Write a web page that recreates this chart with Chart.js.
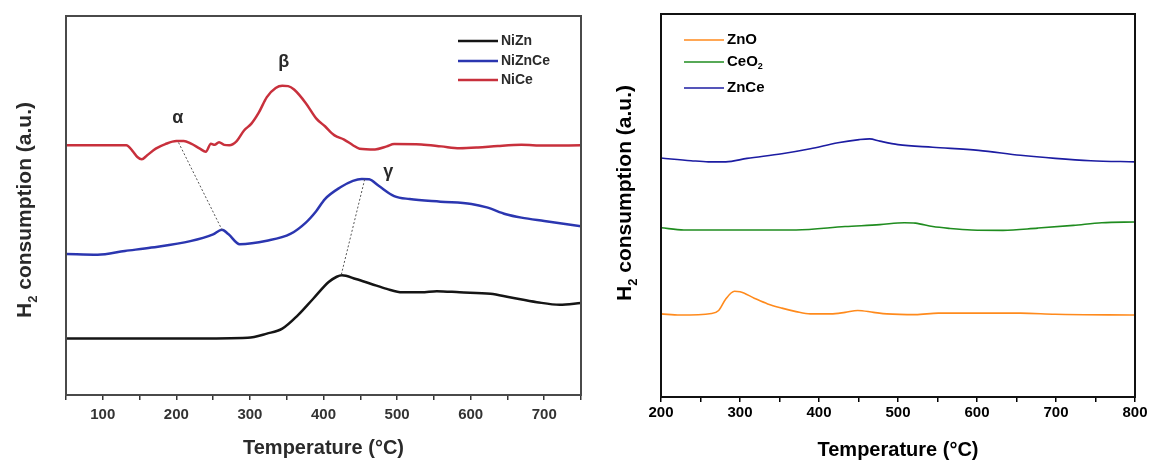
<!DOCTYPE html>
<html>
<head>
<meta charset="utf-8">
<title>H2-TPR profiles</title>
<script src="https://cdn.jsdelivr.net/npm/chart.js@4.4.1/dist/chart.umd.min.js"></script>
<style>
  html, body { margin: 0; padding: 0; background: #fff; }
  #wrap { position: relative; width: 1150px; height: 461px; }
  .panel { position: absolute; top: 0; }
  #left { left: 0; filter: blur(0.4px); }
  #right { left: 600px; }
</style>
</head>
<body>
<div id="wrap">
  <div class="panel" id="left"><canvas id="tprNi" width="600" height="461"></canvas></div>
  <div class="panel" id="right"><canvas id="tprSupport" width="550" height="461"></canvas></div>
</div>
<script>
// --- Ni catalysts (left panel), signal in arbitrary units ---
const niZnT = [50, 219, 297, 323, 344, 365, 386, 407, 418, 425, 444, 465, 486, 507, 533, 554, 585, 627, 653, 690, 721, 750];
const niZnH2 = [14.9, 14.9, 15.1, 16.2, 17.5, 21.0, 25.4, 29.8, 31.2, 31.6, 30.6, 29.3, 28.0, 27.1, 27.1, 27.4, 27.1, 26.7, 25.8, 24.5, 23.8, 24.3];

const niZnCeT = [50, 93, 130, 166, 219, 250, 262, 271, 286, 323, 355, 376, 390, 402, 423, 440, 452, 462, 475, 496, 517, 559, 601, 622, 648, 669, 700, 750];
const niZnCeH2 = [37.2, 37.0, 38.0, 38.9, 40.6, 42.4, 43.6, 42.4, 39.8, 40.7, 42.5, 45.5, 48.5, 51.7, 54.8, 56.5, 57.0, 56.9, 55.2, 52.5, 51.7, 51.0, 50.4, 49.5, 47.7, 46.8, 45.9, 44.5];

const niCeT = [50, 100, 132, 140, 147, 153, 160, 172, 185, 200, 210, 220, 232, 240, 247, 252, 258, 265, 272, 282, 292, 302, 312, 323, 335, 344, 352, 360, 376, 390, 402, 415, 428, 440, 449, 470, 486, 496, 533, 560, 585, 610, 637, 669, 700, 750];
const niCeH2 = [65.9, 65.9, 65.9, 64.5, 62.8, 62.2, 63.2, 65.0, 66.2, 67.0, 67.0, 66.3, 65.0, 64.2, 66.3, 66.0, 66.7, 66.0, 65.9, 67.0, 69.8, 71.6, 74.5, 78.6, 81.0, 81.6, 81.5, 80.6, 77.0, 73.0, 70.9, 68.5, 67.4, 65.9, 65.0, 64.8, 65.6, 66.2, 66.1, 65.6, 65.1, 65.3, 65.7, 66.0, 65.8, 65.9];

// dotted guides joining the shifted peaks
const alphaGuideT = [203, 262];
const alphaGuideH2 = [66.6, 43.6];
const gammaGuideT = [456, 424];
const gammaGuideH2 = [56.9, 31.6];

const peakNames = ['α', 'β', 'γ'];
const peakT = [202, 346, 488];
const peakH2 = [73.1, 87.9, 58.8];

// --- supports (right panel) ---
const znOT = [200, 224, 264, 273, 282, 293, 300, 318, 335, 353, 371, 389, 415, 433, 449, 469, 486, 522, 551, 611, 655, 699, 800];
const znOH2 = [21.7, 21.4, 21.8, 22.6, 25.6, 27.6, 27.5, 25.8, 24.3, 23.2, 22.3, 21.7, 21.7, 22.1, 22.6, 22.1, 21.7, 21.5, 21.9, 21.9, 21.9, 21.6, 21.4];

const ceO2T = [200, 229, 300, 371, 433, 477, 508, 522, 544, 566, 593, 633, 677, 722, 758, 800];
const ceO2H2 = [44.2, 43.6, 43.6, 43.6, 44.5, 45.0, 45.5, 45.4, 44.5, 44.0, 43.6, 43.5, 44.1, 44.8, 45.5, 45.7];

const znCeT = [200, 238, 260, 282, 309, 353, 389, 424, 451, 464, 477, 500, 544, 602, 655, 699, 744, 800];
const znCeH2 = [62.4, 61.7, 61.4, 61.4, 62.3, 63.5, 64.8, 66.4, 67.2, 67.4, 66.8, 65.9, 65.2, 64.4, 63.1, 62.3, 61.7, 61.4];

const FONT = '"Liberation Sans", Arial, sans-serif';
const pts = (xs, ys) => xs.map((x, i) => ({ x, y: ys[i] }));

function curve(label, xs, ys, color, width) {
  return {
    label, data: pts(xs, ys), borderColor: color, borderWidth: width,
    pointRadius: 0, cubicInterpolationMode: 'monotone', fill: false
  };
}

function guide(xs, ys) {
  return {
    label: 'guide', data: pts(xs, ys), borderColor: '#555', borderWidth: 1,
    borderDash: [2, 2], pointRadius: 0, tension: 0, fill: false
  };
}

// text made of runs so that subscripts (H2, CeO2) can be drawn
function runsWidth(ctx, runs, size) {
  let w = 0;
  runs.forEach(r => {
    ctx.font = `bold ${r.sub ? Math.round(size * 0.6) : size}px ${FONT}`;
    w += ctx.measureText(r.t).width;
  });
  return w;
}

function drawRuns(ctx, runs, x, y, size) {
  runs.forEach(r => {
    const s = r.sub ? Math.round(size * 0.6) : size;
    ctx.font = `bold ${s}px ${FONT}`;
    ctx.fillText(r.t, x, r.sub ? y + size * 0.28 : y);
    x += ctx.measureText(r.t).width;
  });
}

const panelText = {
  id: 'panelText',
  afterDraw(chart, args, o) {
    const ctx = chart.ctx;
    const { left, right, top, bottom } = chart.chartArea;
    ctx.save();

    ctx.strokeStyle = o.frameColor;
    ctx.lineWidth = 2;
    ctx.strokeRect(left, top, right - left, bottom - top);

    ctx.fillStyle = o.textColor;
    ctx.textBaseline = 'alphabetic';
    ctx.textAlign = 'left';

    // x title
    const xRuns = [{ t: 'Temperature (' }, { t: '°' }, { t: 'C)' }];
    const xw = runsWidth(ctx, xRuns, o.titleSize);
    drawRuns(ctx, xRuns, (left + right) / 2 - xw / 2, o.xTitleY, o.titleSize);

    // y title, rotated
    const yRuns = [{ t: 'H' }, { t: '2', sub: true }, { t: ' consumption (a.u.)' }];
    const yw = runsWidth(ctx, yRuns, o.yTitleSize);
    ctx.save();
    ctx.translate(o.yTitleX, o.yTitleMid);
    ctx.rotate(-Math.PI / 2);
    drawRuns(ctx, yRuns, -yw / 2, 0, o.yTitleSize);
    ctx.restore();

    // legend
    const lg = o.legend;
    lg.items.forEach((it, i) => {
      const y = lg.rows[i];
      ctx.strokeStyle = it.color;
      ctx.lineWidth = lg.lineWidth;
      ctx.beginPath();
      ctx.moveTo(lg.x0, y);
      ctx.lineTo(lg.x1, y);
      ctx.stroke();
      ctx.textBaseline = 'middle';
      drawRuns(ctx, it.runs, lg.x1 + 3, y, lg.size);
      ctx.textBaseline = 'alphabetic';
    });

    // peak labels
    if (o.peaks) {
      const xs = chart.scales.x, ys = chart.scales.y;
      ctx.font = `bold 18px ${FONT}`;
      ctx.textAlign = 'center';
      ctx.textBaseline = 'middle';
      o.peaks.names.forEach((n, i) => {
        ctx.fillText(n, xs.getPixelForValue(o.peaks.t[i]), ys.getPixelForValue(o.peaks.v[i]));
      });
    }
    ctx.restore();
  }
};

function xAxis(min, max, opts) {
  return {
    type: 'linear', min, max,
    afterFit: s => { s.height = opts.height; },
    border: { display: false },
    grid: { display: true, drawOnChartArea: false, drawTicks: true, tickLength: 5, color: opts.color, lineWidth: 1.5 },
    ticks: {
      stepSize: 50, autoSkip: false, maxRotation: 0, padding: opts.padding,
      color: opts.color, font: { family: FONT, size: 15, weight: 'bold' },
      callback: v => (v % 100 === 0 ? String(v) : '')
    }
  };
}

new Chart(document.getElementById('tprNi'), {
  type: 'line',
  data: {
    datasets: [
      guide(alphaGuideT, alphaGuideH2),
      guide(gammaGuideT, gammaGuideH2),
      curve('NiZn', niZnT, niZnH2, '#151515', 2.5),
      curve('NiZnCe', niZnCeT, niZnCeH2, '#2b36b0', 2.5),
      curve('NiCe', niCeT, niCeH2, '#c8303c', 2.5)
    ]
  },
  options: {
    responsive: false, animation: false,
    layout: { padding: { left: 66, top: 16, right: 19, bottom: 0 } },
    plugins: {
      legend: { display: false }, tooltip: { enabled: false },
      panelText: {
        frameColor: '#4a4a4a', textColor: '#2a2a2a', titleSize: 20, yTitleSize: 21,
        xTitleY: 454, yTitleX: 31, yTitleMid: 210,
        legend: {
          x0: 458, x1: 498, rows: [41, 61, 80], size: 14, lineWidth: 2.5,
          items: [
            { color: '#151515', runs: [{ t: 'NiZn' }] },
            { color: '#2b36b0', runs: [{ t: 'NiZnCe' }] },
            { color: '#c8303c', runs: [{ t: 'NiCe' }] }
          ]
        },
        peaks: { names: peakNames, t: peakT, v: peakH2 }
      }
    },
    scales: {
      x: xAxis(50, 750, { height: 66, padding: 6, color: '#333' }),
      y: { display: false, min: 0, max: 100 }
    }
  },
  plugins: [panelText]
});

new Chart(document.getElementById('tprSupport'), {
  type: 'line',
  data: {
    datasets: [
      curve('ZnO', znOT, znOH2, '#ff8a1c', 1.6),
      curve('CeO2', ceO2T, ceO2H2, '#1f8c1f', 1.6),
      curve('ZnCe', znCeT, znCeH2, '#1c1ca2', 1.6)
    ]
  },
  options: {
    responsive: false, animation: false,
    layout: { padding: { left: 61, top: 14, right: 15, bottom: 0 } },
    plugins: {
      legend: { display: false }, tooltip: { enabled: false },
      panelText: {
        frameColor: '#111', textColor: '#000', titleSize: 20, yTitleSize: 21,
        xTitleY: 456, yTitleX: 31, yTitleMid: 193,
        legend: {
          x0: 84, x1: 124, rows: [40, 62, 88], size: 15, lineWidth: 1.6,
          items: [
            { color: '#ff8a1c', runs: [{ t: 'ZnO' }] },
            { color: '#1f8c1f', runs: [{ t: 'CeO' }, { t: '2', sub: true }] },
            { color: '#1c1ca2', runs: [{ t: 'ZnCe' }] }
          ]
        }
      }
    },
    scales: {
      x: xAxis(200, 800, { height: 64, padding: 2, color: '#000' }),
      y: { display: false, min: 0, max: 100 }
    }
  },
  plugins: [panelText]
});
</script>
</body>
</html>
